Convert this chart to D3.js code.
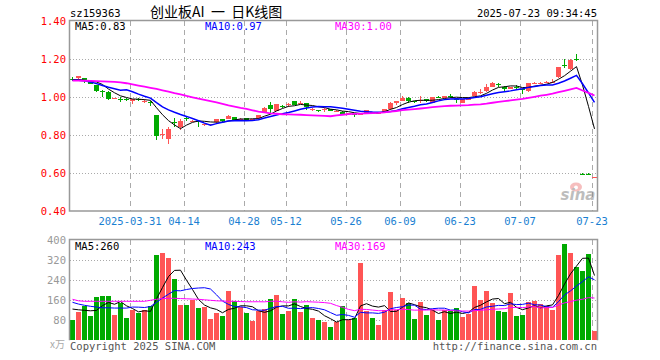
<!DOCTYPE html>
<html><head><meta charset="utf-8">
<script src="https://cdn.jsdelivr.net/npm/d3@7"></script>
<style>body{margin:0;background:#fff}svg{display:block}text{font-family:"DejaVu Sans Mono",monospace}</style>
</head><body>
<svg id="c" width="660" height="360"></svg>
<script>
// ---------- data ----------
const code = "sz159363";
const title = "创业板AI 一 日K线图";
const stamp = "2025-07-23 09:34:45";
const tickIdx = [10, 19, 29, 36, 46, 55, 65, 75, 87];
const tickLabels = ["2025-03-31","04-14","04-28","05-12","05-26","06-09","06-23","07-07","07-23"];
const priceTicks = [0.40, 0.60, 0.80, 1.00, 1.20, 1.40];
const volTicks = [80, 160, 240, 320, 400];

const open = [1.096,1.104,1.102,1.086,1.065,1.031,1.030,0.994,0.991,0.991,
0.980,0.990,0.978,0.973,0.907,0.804,0.783,0.868,0.846,0.890,
0.876,0.875,0.853,0.857,0.868,0.884,0.886,0.895,0.885,0.889,
0.882,0.890,0.919,0.960,0.930,0.952,0.962,0.980,0.971,0.968,
0.931,0.931,0.939,0.937,0.929,0.925,0.915,0.911,0.909,0.916,
0.921,0.919,0.925,0.937,0.968,0.980,0.998,0.978,0.984,0.990,
0.972,1.001,0.998,1.008,0.991,0.972,0.986,1.007,1.029,1.033,
1.056,1.069,1.056,1.045,1.054,1.044,1.035,1.076,1.076,1.080,
1.081,1.105,1.171,1.147,1.203,0.597,0.597,0.578];
const close = [1.095,1.112,1.091,1.072,1.033,1.030,0.990,0.995,0.990,0.990,
0.990,0.986,0.982,0.972,0.796,0.805,0.832,0.867,0.875,0.889,
0.877,0.870,0.857,0.858,0.884,0.876,0.903,0.882,0.886,0.879,
0.885,0.907,0.946,0.937,0.965,0.951,0.963,0.962,0.972,0.947,
0.940,0.930,0.940,0.930,0.930,0.907,0.916,0.910,0.910,0.932,
0.920,0.920,0.939,0.972,0.980,0.998,0.982,0.977,0.985,0.978,
1.000,1.000,1.006,1.007,0.990,0.990,0.998,1.030,1.030,1.056,
1.077,1.068,1.046,1.053,1.053,1.036,1.074,1.077,1.077,1.081,
1.082,1.158,1.170,1.196,1.202,0.596,0.596,0.579];
const high = [1.105,1.113,1.103,1.088,1.066,1.039,1.031,0.998,1.000,0.997,
0.992,0.994,0.990,0.980,0.907,0.832,0.842,0.890,0.884,0.900,
0.880,0.877,0.860,0.862,0.886,0.886,0.905,0.897,0.890,0.891,
0.888,0.909,0.948,0.975,0.967,0.958,0.968,0.982,0.978,0.970,
0.942,0.935,0.946,0.939,0.933,0.927,0.920,0.914,0.915,0.934,
0.925,0.924,0.940,0.974,0.982,1.007,1.000,0.982,1.007,0.992,
1.003,1.005,1.008,1.020,0.996,0.992,1.000,1.032,1.042,1.068,
1.079,1.077,1.058,1.055,1.065,1.046,1.076,1.082,1.082,1.086,
1.095,1.160,1.200,1.200,1.230,0.600,0.600,0.582];
const low = [1.085,1.091,1.077,1.068,1.028,1.000,0.985,0.990,0.975,0.983,
0.965,0.982,0.972,0.955,0.775,0.778,0.753,0.842,0.828,0.877,
0.872,0.846,0.850,0.853,0.866,0.872,0.884,0.878,0.880,0.876,
0.876,0.886,0.915,0.915,0.928,0.945,0.950,0.960,0.965,0.934,
0.928,0.925,0.922,0.928,0.926,0.905,0.910,0.898,0.905,0.912,
0.915,0.915,0.922,0.935,0.962,0.978,0.968,0.970,0.968,0.975,
0.970,0.995,0.995,0.995,0.972,0.968,0.984,1.005,1.018,1.030,
1.054,1.056,1.030,1.043,1.040,1.020,1.030,1.070,1.072,1.075,
1.074,1.103,1.153,1.143,1.190,0.592,0.592,0.576];
const volume = [80,113,136,96,173,176,176,100,149,89,
122,109,122,136,340,349,328,245,140,140,
163,129,133,84,109,96,196,156,133,109,
77,116,124,164,180,104,116,164,112,140,
88,80,72,52,72,136,80,91,309,116,
88,60,120,192,120,168,148,84,152,100,
120,80,120,116,128,92,105,216,160,196,
148,116,112,188,96,100,152,156,144,136,
120,340,384,348,292,276,344,36];

// moving-average values at the start of the window (history not shown)
const ma5Lead = [1.093,1.094,1.090,1.085];
const ma10Lead = [1.090,1.090,1.087,1.080,1.072,1.062,1.053,1.045,1.037];
const ma30Lead = [1.088,1.088,1.087,1.086,1.085,1.084,1.083,1.081,1.079,1.074,1.068,1.062,1.056,1.050,1.044,1.037,1.030,1.022,1.015,1.007,1.000,0.993,0.987,0.980,0.973,0.966,0.958,0.951,0.944];
const vma5Lead = [125,122,120,118];
const vma10Lead = [152,145,140,136,133,130,130,129,129];
const vma30Lead = [164,158,156,156,156,156,156,156,156,156,156,156,156,160,164,167,168,168,167,166,165,164,162,160,158,157,156,156,155];

const maNames = ["MA5","MA10","MA30"];
const priceMaLast = [0.83, 0.97, 1.00];
const volMaLast = [260, 243, 169];

// ---------- drawing ----------
const N = close.length;
const UP = "#ff5555", DOWN = "#00aa00";
const maColors = ["#000000", "#0000ff", "#ff00ff"];
const L = 70, R = 597, PT = 21.3, PB = 211.3, VT = 240.3, VB = 340.3;

const svg = d3.select("#c");
const x = d3.scaleBand().domain(d3.range(N)).range([L, L + 6 * N - 1]).paddingInner(1/6).paddingOuter(0);
const cx = i => x(i) + x.bandwidth() / 2;
const yP = d3.scaleLinear().domain([0.4, 1.4]).range([PB, PT]);
const yV = d3.scaleLinear().domain([0, 400]).range([VB, VT]);
const isUp = i => close[i] >= open[i];

function movingAvg(vals, n, lead) {
  return vals.map((v, i) => i < n - 1 ? lead[i] : d3.mean(vals.slice(i - n + 1, i + 1)));
}
const pMA = [movingAvg(close, 5, ma5Lead), movingAvg(close, 10, ma10Lead), movingAvg(close, 30, ma30Lead)];
const vMA = [movingAvg(volume, 5, vma5Lead), movingAvg(volume, 10, vma10Lead), movingAvg(volume, 30, vma30Lead)];

// header
svg.append("text").attr("x", 70).attr("y", 16.5).attr("font-size", 10.5).attr("fill", "#000").text(code);
svg.append("text").attr("x", 150).attr("y", 17).attr("font-size", 14).attr("xml:space", "preserve")
  .style("font-family", "'Noto Sans CJK SC'").style("white-space", "pre").attr("fill", "#000").text(title.replace(/ /g, "  "));
svg.append("text").attr("x", 597).attr("y", 16.5).attr("text-anchor", "end").attr("font-size", 10.5).attr("fill", "#000").text(stamp);

// grids
const grid = svg.append("g").attr("shape-rendering", "crispEdges");
[0.6, 0.8, 1.0, 1.2].forEach(v => grid.append("line").attr("x1", L).attr("x2", R)
  .attr("y1", Math.round(yP(v)) + 0.5).attr("y2", Math.round(yP(v)) + 0.5)
  .attr("stroke", "#aaa").attr("stroke-dasharray", "1,2"));
[80, 160, 240, 320].forEach(v => grid.append("line").attr("x1", L).attr("x2", R)
  .attr("y1", Math.round(yV(v)) + 0.5).attr("y2", Math.round(yV(v)) + 0.5)
  .attr("stroke", "#aaa").attr("stroke-dasharray", "1,2"));
tickIdx.forEach(i => {
  [[PT, PB], [VT, VB]].forEach(([a, b]) => grid.append("line")
    .attr("x1", x(i) + 0.5).attr("x2", x(i) + 0.5).attr("y1", a).attr("y2", b)
    .attr("stroke", "#aaa").attr("stroke-dasharray", "5,4"));
});

// watermark
const wm = svg.append("g").attr("opacity", 0.55);
wm.append("ellipse").attr("cx", 576).attr("cy", 187).attr("rx", 6).attr("ry", 4.5).attr("fill", "#f08a8a");
wm.append("circle").attr("cx", 576).attr("cy", 187.5).attr("r", 2).attr("fill", "#fff");
wm.append("text").attr("x", 578).attr("y", 200).attr("text-anchor", "middle").attr("font-size", 15)
  .attr("font-style", "italic").attr("font-weight", "bold").style("font-family", "'DejaVu Sans'")
  .attr("fill", "#888").text("sina");

// candles
const cg = svg.append("g").attr("shape-rendering", "crispEdges");
d3.range(N).forEach(i => {
  const col = isUp(i) ? UP : DOWN;
  cg.append("line").attr("x1", Math.floor(cx(i)) + 0.5).attr("x2", Math.floor(cx(i)) + 0.5)
    .attr("y1", yP(high[i])).attr("y2", yP(low[i])).attr("stroke", col);
  const top = yP(Math.max(open[i], close[i])), bot = yP(Math.min(open[i], close[i]));
  cg.append("rect").attr("x", x(i)).attr("width", x.bandwidth())
    .attr("y", top).attr("height", Math.max(1, bot - top)).attr("fill", col);
});

// volume bars
const vg = svg.append("g").attr("shape-rendering", "crispEdges");
vg.selectAll("rect").data(volume).join("rect")
  .attr("x", (d, i) => x(i)).attr("width", x.bandwidth())
  .attr("y", d => yV(d)).attr("height", d => VB - yV(d))
  .attr("fill", (d, i) => isUp(i) ? UP : DOWN);

// MA lines
const pw = [1, 1.5, 1.8];
pMA.forEach((s, k) => svg.append("path").datum(s)
  .attr("d", d3.line().x((d, i) => cx(i)).y(d => yP(d)))
  .attr("fill", "none").attr("stroke", maColors[k]).attr("stroke-width", pw[k]));
vMA.forEach((s, k) => svg.append("path").datum(s)
  .attr("d", d3.line().x((d, i) => cx(i)).y(d => yV(d)))
  .attr("fill", "none").attr("stroke", maColors[k]).attr("stroke-width", 1));

// borders
const bd = svg.append("g").attr("fill", "none").attr("stroke", "#999").attr("stroke-width", 1.5);
bd.append("rect").attr("x", L - 0.5).attr("y", PT - 0.8).attr("width", R - L + 1).attr("height", PB - PT + 0.5);
bd.append("path").attr("d", `M${L - 0.5},${VB}V${VT - 0.8}H${R + 0.5}V${VB}`);

// axes
const ax = svg.append("g").attr("transform", `translate(${L},0)`)
  .call(d3.axisLeft(yP).tickValues(priceTicks).tickFormat(d3.format(".2f")).tickSize(0).tickPadding(4));
ax.select(".domain").remove();
ax.selectAll("text").attr("fill", "#ff0000").attr("font-size", 10.5).style("font-family", "'DejaVu Sans Mono'");

const vax = svg.append("g").attr("transform", `translate(${L},0)`)
  .call(d3.axisLeft(yV).tickValues(volTicks).tickFormat(d3.format("d")).tickSize(0).tickPadding(4));
vax.select(".domain").remove();
vax.selectAll("text").attr("fill", "#999").attr("font-size", 10.5).style("font-family", "'DejaVu Sans Mono'");

const xax = svg.append("g").attr("transform", `translate(-2.5,${PB + 2})`)
  .call(d3.axisBottom(x).tickValues(tickIdx).tickFormat((d, k) => tickLabels[k]).tickSize(0).tickPadding(4));
xax.select(".domain").remove();
xax.selectAll("text").attr("fill", "#1a7fd2").attr("font-size", 10.5).style("font-family", "'DejaVu Sans Mono'");

// legends
const legX = [75, 205, 335];
maNames.forEach((n, k) => {
  svg.append("text").attr("x", legX[k]).attr("y", 29.5).attr("font-size", 10.5).attr("fill", maColors[k])
    .text(n + ":" + d3.format(".2f")(priceMaLast[k]));
  svg.append("text").attr("x", legX[k]).attr("y", 249.5).attr("font-size", 10.5).attr("fill", maColors[k])
    .text(n + ":" + volMaLast[k]);
});

// footer
svg.append("text").attr("x", 50).attr("y", 348).attr("font-size", 10).attr("fill", "#aaa")
  .style("font-family", "'Noto Sans CJK SC'").text("x万");
svg.append("text").attr("x", 70).attr("y", 350).attr("font-size", 10.5).attr("fill", "#555").text("Copyright 2025 SINA.COM");
svg.append("text").attr("x", 597).attr("y", 350).attr("text-anchor", "end").attr("font-size", 10.5).attr("fill", "#555").text("http://finance.sina.com.cn");
</script>
</body></html>
